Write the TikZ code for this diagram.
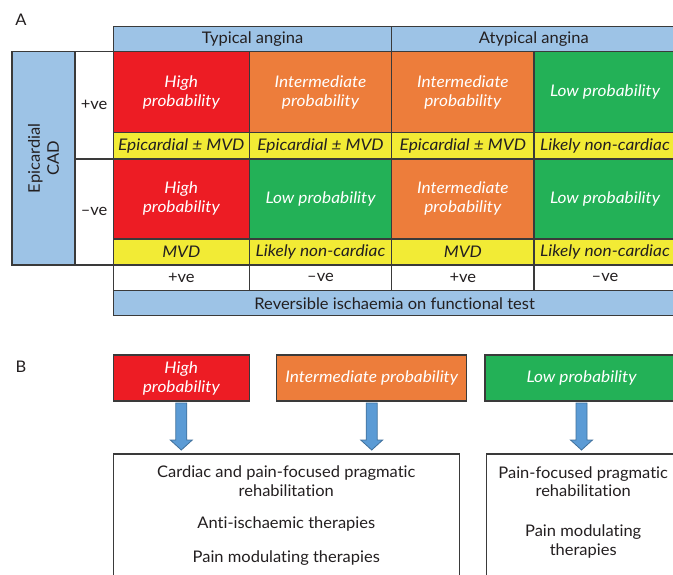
\documentclass[tikz,border=0pt]{standalone}
\usepackage{fontspec}
\setmainfont{Lato}[Ligatures={NoCommon},UprightFeatures={FakeStretch=1.03},ItalicFeatures={FakeStretch=1.08}]
\usetikzlibrary{calc}
\definecolor{cred}{HTML}{ED1C24}
\definecolor{corange}{HTML}{ED7D3B}
\definecolor{cgreen}{HTML}{23B157}
\definecolor{cyellow}{HTML}{F2EB35}
\definecolor{cblue}{HTML}{9DC3E6}
\definecolor{carrow}{HTML}{5B9BD5}
\definecolor{carrowedge}{HTML}{41719C}
\definecolor{cline}{HTML}{3A3A3A}
\definecolor{ctext}{HTML}{231F20}
\tikzset{
  base/.style={inner sep=0pt, outer sep=0pt, align=center, text=ctext,
    font=\fontsize{16}{19}\selectfont},
  cell/.style={base, draw=cline, line width=1.4pt},
  prob/.style={cell, text=white, font=\fontsize{16}{19}\selectfont\itshape},
  ycell/.style={cell, fill=cyellow, font=\fontsize{16}{19}\selectfont\itshape},
  hcell/.style={cell, fill=cblue},
  wcell/.style={cell, fill=white},
  txt/.style={base, font=\fontsize{16}{18.5}\selectfont},
  panel/.style={base, font=\fontsize{16}{19}\selectfont},
  bigarrow/.style={fill=carrow, draw=carrowedge, line width=0.8pt},
}
\begin{document}
\begin{tikzpicture}[x=1pt,y=-1pt]
\clip (0,0) rectangle (673,574);
\fill[white] (0,0) rectangle (673,574);
% ---------- Panel A ----------
\node[panel] (lA) at (21,20) {A};
% headers
\node[hcell, minimum width=278.4, minimum height=25] (h1) at (252.5,39.2) {Typical angina};
\node[hcell, minimum width=284.3, minimum height=25] (h2) at (533.85,39.2) {Atypical angina};
% left labels
\node[hcell, rotate=90, minimum width=213.3, minimum height=63] (epi) at (43.5,158.35) {Epicardial\\CAD};
\node[wcell, minimum width=38.3, minimum height=107.1, anchor=north west] (pv) at (75,51.7) {};
\node[base] (pvt) at (pv.center) {+ve};
\node[wcell, minimum width=38.3, minimum height=106.2, anchor=north west] (nv) at (75,158.8) {};
\node[base] (nvt) at (nv.center) {–ve};
% row 1
\node[prob, fill=cred, minimum width=136, minimum height=80.6] (r1c1) at (181.3,92) {High\\probability};
\node[prob, fill=corange, minimum width=142.4, minimum height=80.6] (r1c2) at (320.5,92) {Intermediate\\probability};
\node[prob, fill=corange, minimum width=142.3, minimum height=80.6] (r1c3) at (462.85,92) {Intermediate\\probability};
\node[prob, fill=cgreen, minimum width=142, minimum height=80.6] (r1c4) at (605,92) {Low probability};
\node[ycell, minimum width=136, minimum height=26.5] (y1c1) at (181.3,145.55) {Epicardial ± MVD};
\node[ycell, minimum width=142.4, minimum height=26.5] (y1c2) at (320.5,145.55) {Epicardial ± MVD};
\node[ycell, minimum width=142.3, minimum height=26.5] (y1c3) at (462.85,145.55) {Epicardial ± MVD};
\node[ycell, minimum width=142, minimum height=26.5] (y1c4) at (605,145.55) {Likely non-cardiac};
% row 2
\node[prob, fill=cred, minimum width=136, minimum height=80.2] (r2c1) at (181.3,198.9) {High\\probability};
\node[prob, fill=cgreen, minimum width=142.4, minimum height=80.2] (r2c2) at (320.5,198.9) {Low probability};
\node[prob, fill=corange, minimum width=142.3, minimum height=80.2] (r2c3) at (462.85,198.9) {Intermediate\\probability};
\node[prob, fill=cgreen, minimum width=142, minimum height=80.2] (r2c4) at (605,198.9) {Low probability};
\node[ycell, minimum width=136, minimum height=26] (y2c1) at (181.3,252) {MVD};
\node[ycell, minimum width=142.4, minimum height=26] (y2c2) at (320.5,252) {Likely non-cardiac};
\node[ycell, minimum width=142.3, minimum height=26] (y2c3) at (462.85,252) {MVD};
\node[ycell, minimum width=142, minimum height=26] (y2c4) at (605,252) {Likely non-cardiac};
% bottom rows
\node[wcell, minimum width=136, minimum height=25.7] (w1) at (181.3,277.85) {+ve};
\node[wcell, minimum width=142.4, minimum height=25.7] (w2) at (320.5,277.85) {–ve};
\node[wcell, minimum width=142.3, minimum height=25.7] (w3) at (462.85,277.85) {+ve};
\node[wcell, minimum width=142, minimum height=25.7] (w4) at (605,277.85) {–ve};
\node[hcell, minimum width=562.7, minimum height=25] (rev) at (394.65,303.2) {Reversible ischaemia on functional test};
% ---------- Panel B ----------
\node[panel] (lB) at (21,367) {B};
\node[prob, fill=cred, minimum width=136, minimum height=46] (bh) at (181.3,378) {High\\probability};
\node[prob, fill=corange, minimum width=190, minimum height=46] (bi) at (371.7,378) {Intermediate probability};
\node[prob, fill=cgreen, minimum width=193, minimum height=46] (bl) at (581.5,378) {Low probability};
\node[cell, fill=white, minimum width=346, minimum height=160, anchor=north west] (tl) at (113.3,454) {};
\node[cell, fill=white, minimum width=200, minimum height=160, anchor=north west] (tr) at (486.7,454) {};
\node[txt, anchor=north] (tlt) at ($(tl.north)+(0,12)$) {Cardiac and pain-focused pragmatic\\rehabilitation\\[14pt]Anti-ischaemic therapies\\[14.8pt]Pain modulating therapies};
\node[txt, anchor=north] (trt) at ($(tr.north)+(-3.5,12.5)$) {Pain-focused pragmatic\\rehabilitation\\[21.5pt]Pain modulating\\therapies};
% arrows
\foreach \s in {bh,bi,bl}{
  \draw[bigarrow] ($(\s.south)+(-5.5,2)$) -- ($(\s.south)+(5.5,2)$) -- ($(\s.south)+(5.5,39)$)
    -- ($(\s.south)+(11,39)$) -- ($(\s.south)+(0,49)$) -- ($(\s.south)+(-11,39)$)
    -- ($(\s.south)+(-5.5,39)$) -- cycle;
}
\end{tikzpicture}
\end{document}
